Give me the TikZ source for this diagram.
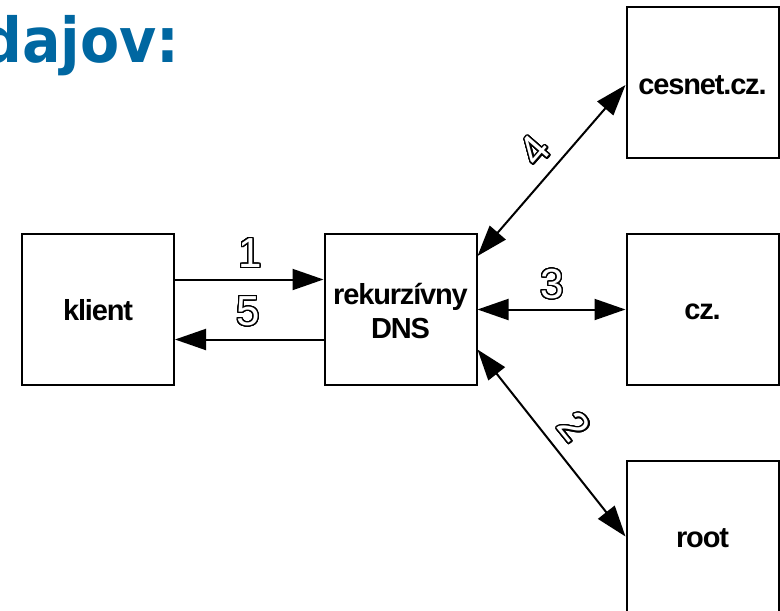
\documentclass[tikz,border=0pt]{standalone}
\usepackage{fontspec}
\usepackage{contour}
\usetikzlibrary{arrows.meta}
\setmainfont{Liberation Sans}
\newfontfamily\boxfont[LetterSpace=-4]{Liberation Sans Bold}
\newfontfamily\titlefont[FakeStretch=0.92]{DejaVu Sans Bold}
\definecolor{titleblue}{RGB}{0,103,161}
\contourlength{1.3pt}
\contournumber{32}
\tikzset{
  box/.style={draw=black, line width=2pt, rectangle, minimum width=152pt, minimum height=151pt, inner sep=0pt,
    font=\boxfont\fontsize{29pt}{34pt}\selectfont, align=center},
  boxtext/.style={inner sep=0pt, font=\boxfont\fontsize{29pt}{34pt}\selectfont, align=center},
  arr/.style={line width=2pt, -{Triangle[length=31pt,width=21pt]}},
  darr/.style={line width=2pt, {Triangle[length=31pt,width=21pt]}-{Triangle[length=31pt,width=21pt]}},
  lbl/.style={inner sep=0pt, font=\fontsize{42pt}{42pt}\selectfont}
}
\newcommand{\hollow}[1]{\contour{black}{\textcolor{white}{#1}}}
\begin{document}
\begin{tikzpicture}[x=1pt,y=-1pt]
\useasboundingbox (0,0) rectangle (780,611);
\node[anchor=base west, inner sep=0pt, text=titleblue, font=\titlefont\fontsize{62pt}{62pt}\selectfont] (title) at (-19,62) {dajov:};
\node[box] (klient) at (98,309.5) {};
\node[box] (dns) at (400.5,309.5) {};
\node[box] (cesnet) at (702.5,82.5) {};
\node[box] (cz) at (702.5,309.5) {};
\node[box] (root) at (702.5,536.5) {};
\node[boxtext] (tklient) at ([yshift=-1pt]klient.center) {klient};
\node[boxtext] (tdns) at ([yshift=-1.5pt]dns.center) {rekurzívny\\DNS};
\node[boxtext] (tcesnet) at ([yshift=-2.5pt]cesnet.center) {cesnet.cz.};
\node[boxtext] (tcz) at ([yshift=-2.5pt]cz.center) {cz.};
\node[boxtext] (troot) at ([yshift=-2pt]root.center) {root};
\draw[arr] ([yshift=30pt]klient.east) -- ([yshift=30pt]dns.west);
\draw[arr] ([yshift=-30pt]dns.west) -- ([yshift=-30pt]klient.east);
\draw[darr] (dns.east) -- (cz.west);
\draw[darr] ([yshift=53.5pt]dns.east) -- ([yshift=-2.5pt]cesnet.west);
\draw[darr] ([yshift=-40pt]dns.east) -- (root.west);
\node[lbl] (l1) at (250,253.5) {\hollow{1}};
\node[lbl] (l5) at (248,312) {\hollow{5}};
\node[lbl] (l3) at (552,284.5) {\hollow{3}};
\node[lbl, rotate=49] (l4) at (535,151) {\hollow{4}};
\node[lbl, rotate=-51] (l2) at (574,427) {\hollow{2}};
\end{tikzpicture}
\end{document}
